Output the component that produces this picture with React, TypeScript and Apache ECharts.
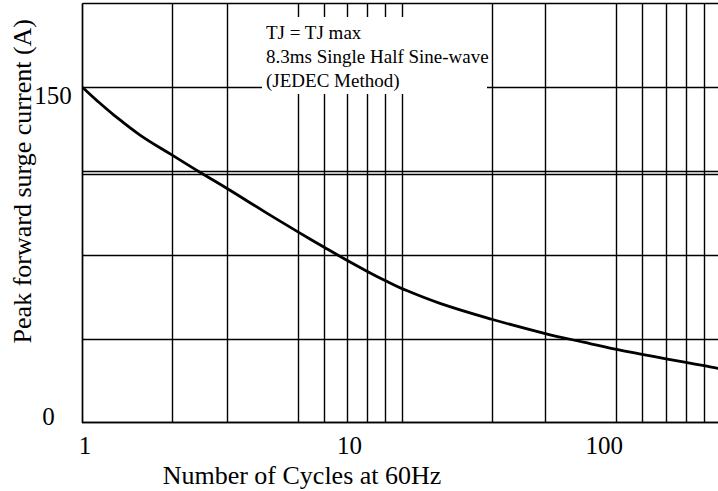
import React, { useEffect, useRef } from "react";
import * as echarts from "echarts";

// ---- data ----
const cycles = [1, 1.117, 1.247, 1.512, 1.913, 2.301, 2.825, 3.751, 4.735, 5.74, 6.55, 7.79, 8.85, 10, 13.15, 19.1, 28.1, 37.35, 47.0, 57.0, 67.1, 77.5, 88.3, 97.7, 100];
const surgeCurrent = [150, 143.7, 137.9, 128.7, 119.6, 112.5, 104.9, 94.0, 85.3, 78.3, 73.6, 67.7, 63.6, 60.0, 53.4, 46.3, 39.9, 35.9, 32.8, 30.5, 28.6, 27.0, 25.5, 24.3, 24.1];

const xTickValues = [1, 10, 100];
const xTickLabels = ["1", "10", "100"];
const yTickValues = [0, 150];
const yTickLabels = ["0", "150"];

// grid lines of the reference, read in axis units
const minorGridX = [1.913, 2.825, 4.725, 5.71, 6.74, 7.79, 8.85, 19.13, 28.1, 47.0, 56.7, 67.1, 77.5, 88.3];
const majorGridX = [3.751, 37.35];
const extraGridY = [111.2];

const xAxisName = "Number of Cycles at 60Hz";
const yAxisName = "Peak forward surge current (A)";
const noteLines = ["TJ = TJ max", "8.3ms Single Half Sine-wave", "(JEDEC Method)"];

const FONT = "Liberation Serif";
const LINE = { color: "#000", width: 1.4 };

export default function App() {
  const ref = useRef<HTMLDivElement>(null);
  useEffect(() => {
    document.body.style.margin = "0";
    const chart = echarts.init(ref.current!, undefined, { renderer: "svg" });
    const xRich: Record<string, any> = {
      x0: { fontFamily: FONT, fontSize: 25, color: "#000", padding: [0, 0, 0, 4.6] },
      x1: { fontFamily: FONT, fontSize: 25, color: "#000", padding: [0, 105, 0, 0] },
      x2: { fontFamily: FONT, fontSize: 25, color: "#000", padding: [0, 234, 0, 0] },
    };
    const yRich: Record<string, any> = {
      y0: { fontFamily: FONT, fontSize: 25, color: "#000", padding: [0, 17, 12.4, 0] },
      y1: { fontFamily: FONT, fontSize: 25, color: "#000", padding: [15.4, 0, 0, 0] },
    };
    const option: any = {
      animation: false,
      textStyle: { fontFamily: FONT, color: "#000" },
      grid: { left: 82.7, right: -3.3, top: 3.7, bottom: 68.3, containLabel: false, outerBoundsMode: "none" },
      xAxis: {
        type: "log",
        logBase: 10,
        min: 1,
        max: 100,
        name: xAxisName,
        nameLocation: "middle",
        nameGap: 40,
        nameMoveOverlap: false,
        nameTextStyle: { fontFamily: FONT, fontSize: 26, color: "#000", padding: [0, 200, 0, 0] },
        axisLine: { show: true, lineStyle: LINE },
        axisTick: { show: false },
        minorTick: { show: false },
        minorSplitLine: { show: false },
        splitLine: { show: true, lineStyle: LINE },
        axisLabel: {
          margin: 10,
          showMinLabel: true,
          showMaxLabel: true,
          formatter: (v: number) => {
            const i = xTickValues.indexOf(Math.pow(10, Math.round(Math.log10(v))));
            return i < 0 ? "" : `{x${i}|${xTickLabels[i]}}`;
          },
          rich: xRich,
        },
      },
      yAxis: {
        type: "value",
        min: 0,
        max: 187.5,
        interval: 37.5,
        name: yAxisName,
        nameLocation: "middle",
        nameGap: 47,
        nameMoveOverlap: false,
        nameTextStyle: { fontFamily: FONT, fontSize: 26, color: "#000", padding: [0, 0, 0, 64] },
        axisLine: { show: true, lineStyle: LINE },
        axisTick: { show: false },
        splitLine: { show: true, lineStyle: LINE },
        axisLabel: {
          margin: 11,
          formatter: (v: number) => {
            const i = yTickValues.indexOf(v);
            return i < 0 ? "" : `{y${i}|${yTickLabels[i]}}`;
          },
          rich: yRich,
        },
      },
      series: [
        {
          type: "line",
          data: cycles.map((c, i) => [c, surgeCurrent[i]]),
          smooth: 0.4,
          symbol: "none",
          clip: false,
          z: 3,
          lineStyle: { color: "#000", width: 2.8 },
          emphasis: { disabled: true },
          markLine: {
            z: 1,
            silent: true,
            animation: false,
            symbol: ["none", "none"],
            label: { show: false },
            emphasis: { disabled: true },
            lineStyle: { color: "#000", width: 1.4, type: "solid" },
            data: [
              ...minorGridX.map((x) => ({ xAxis: x })),
              ...extraGridY.map((y) => ({ yAxis: y })),
              ...majorGridX.map((x) => [{ coord: [x, -2.3] }, { coord: [x, 186] }]),
            ],
          },
        },
      ],
      graphic: {
        elements: [
          {
            type: "rect",
            z: 100,
            shape: { x: 262, y: 17, width: 225, height: 77 },
            style: { fill: "#fff" },
            silent: true,
          },
          {
            type: "text",
            z: 101,
            x: 266,
            y: 21,
            style: {
              text: noteLines.join("\n"),
              fontFamily: FONT,
              fontSize: 19,
              lineHeight: 23.7,
              fill: "#000",
              verticalAlign: "top",
              align: "left",
            },
            silent: true,
          },
        ],
      },
    };
    chart.setOption(option);
    return () => chart.dispose();
  }, []);
  return <div ref={ref} style={{ width: 718, height: 491 }} />;
}
